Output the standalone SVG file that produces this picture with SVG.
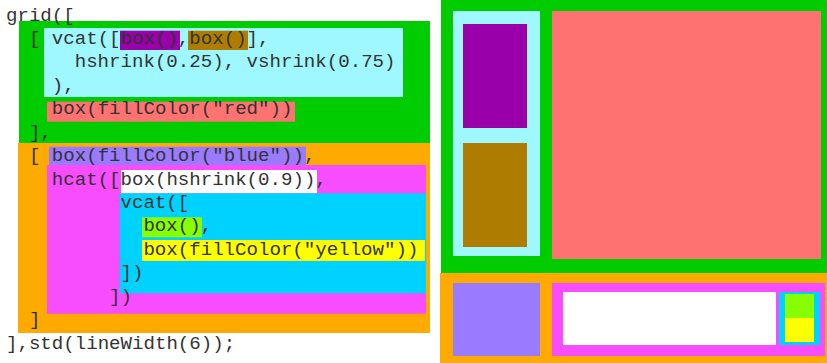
<svg xmlns="http://www.w3.org/2000/svg" width="827" height="363" viewBox="0 0 827 363">
<style>
text{font-family:"Liberation Mono","Courier New",monospace;font-size:19.1px;fill:#333;white-space:pre}
</style>
<rect width="827" height="363" fill="#fff"/>
<g id="code-bg">
<rect x="19" y="21" width="411" height="122" fill="#00cc00"/>
<rect x="18" y="143" width="412" height="190" fill="#ffaa00"/>
<rect x="44" y="28" width="359" height="69" fill="#9ff8ff"/>
<rect x="120" y="30.7" width="60" height="19.3" fill="#9900aa"/>
<rect x="188" y="30.7" width="60" height="19.3" fill="#ae7c00"/>
<rect x="47" y="101.7" width="248" height="20" fill="#ff7272"/>
<rect x="49" y="146.7" width="257" height="18.3" fill="#9a7aff"/>
<rect x="47" y="165" width="379" height="148.7" fill="#f84cff"/>
<rect x="121" y="170" width="196" height="23.3" fill="#fff"/>
<rect x="119.7" y="193.3" width="306.3" height="100" fill="#00d2ff"/>
<rect x="142" y="217.3" width="60" height="20" fill="#88ff00"/>
<rect x="142" y="240" width="283" height="21" fill="#ffff00"/>
</g>
<g id="code-text">
<text x="6" y="20.5">grid([</text>
<text x="28.9" y="43.9">[</text>
<text x="51.8" y="43.9">vcat([box(),box()],</text>
<text x="74.7" y="67.4">hshrink(0.25), vshrink(0.75)</text>
<text x="51.8" y="90.8">),</text>
<text x="51.8" y="114.2">box(fillColor("red"))</text>
<text x="28.9" y="137.7">],</text>
<text x="28.9" y="161.1">[</text>
<text x="51.8" y="161.1">box(fillColor("blue")),</text>
<text x="51.8" y="184.5">hcat([box(hshrink(0.9)),</text>
<text x="120.5" y="208">vcat([</text>
<text x="143.4" y="231.4">box(),</text>
<text x="143.4" y="254.8">box(fillColor("yellow"))</text>
<text x="120.5" y="278.3">])</text>
<text x="109" y="301.7">])</text>
<text x="28.9" y="325.1">]</text>
<text x="6" y="348.6">],std(lineWidth(6));</text>
</g>
<g id="render">
<rect x="441" y="0" width="386" height="273" fill="#00cc00"/>
<rect x="453" y="11" width="87" height="245" fill="#9ff8ff"/>
<rect x="463" y="24" width="64" height="104" fill="#9900aa"/>
<rect x="463" y="143" width="64" height="104" fill="#ae7c00"/>
<rect x="552" y="11" width="269" height="248" fill="#ff7272"/>
<rect x="440" y="273" width="387" height="90" fill="#ffaa00"/>
<rect x="453" y="283" width="87" height="73" fill="#9a7aff"/>
<rect x="552" y="283" width="273" height="73" fill="#f84cff"/>
<rect x="563" y="292" width="213" height="53" fill="#fff"/>
<rect x="779" y="292" width="41" height="53" fill="#00d2ff"/>
<rect x="785" y="294" width="29" height="24" fill="#88ff00"/>
<rect x="785" y="318" width="29" height="24" fill="#ffff00"/>
</g>
</svg>
